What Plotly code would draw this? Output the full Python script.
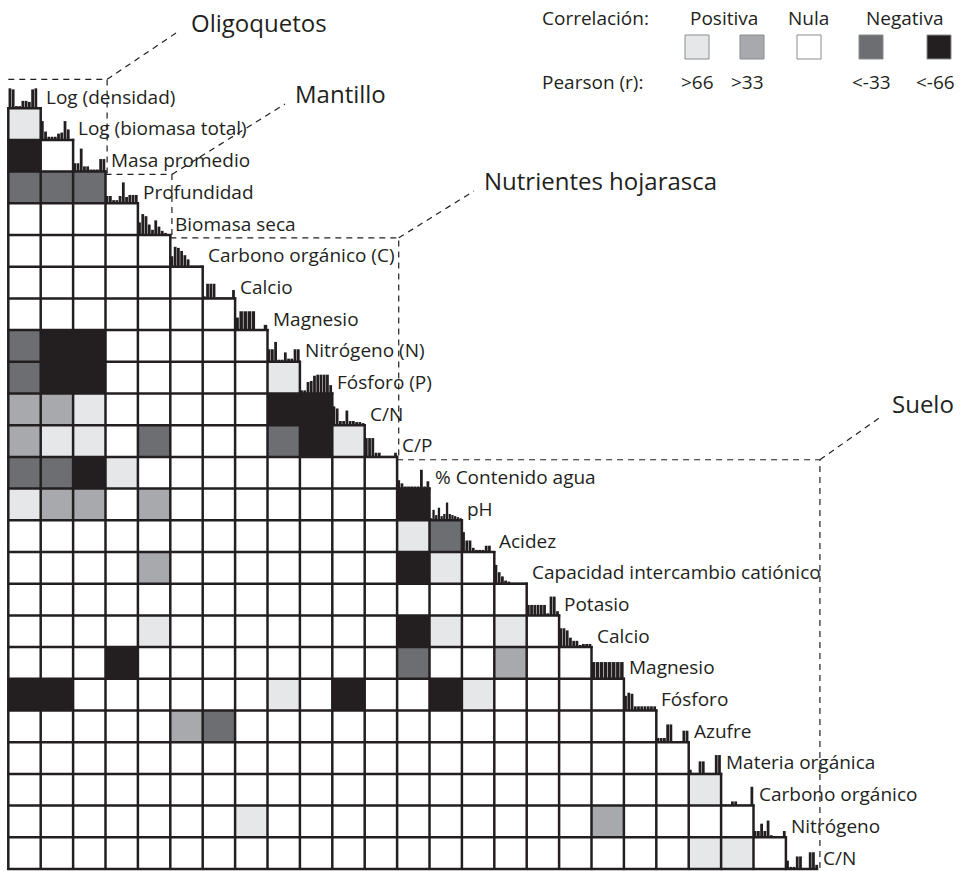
import plotly.graph_objects as go

# ---------------- data ----------------
variables = ["Log (densidad)", "Log (biomasa total)", "Masa promedio", "Profundidad", "Biomasa seca",
             "Carbono orgánico (C)", "Calcio", "Magnesio", "Nitrógeno (N)", "Fósforo (P)", "C/N", "C/P",
             "% Contenido agua", "pH", "Acidez", "Capacidad intercambio catiónico", "Potasio", "Calcio",
             "Magnesio", "Fósforo", "Azufre", "Materia orgánica", "Carbono orgánico", "Nitrógeno", "C/N"]

# correlation class per lower-triangle cell (row i, columns 0..i-1)
# 2: r>66, 1: r>33, 0: nula, -1: r<-33, -2: r<-66
corr_rows = [
    [],
    [2],
    [-2, 0],
    [-1, -1, -1],
    [0, 0, 0, 0],
    [0, 0, 0, 0, 0],
    [0, 0, 0, 0, 0, 0],
    [0, 0, 0, 0, 0, 0, 0],
    [-1, -2, -2, 0, 0, 0, 0, 0],
    [-1, -2, -2, 0, 0, 0, 0, 0, 2],
    [1, 1, 2, 0, 0, 0, 0, 0, -2, -2],
    [1, 2, 2, 0, -1, 0, 0, 0, -1, -2, 2],
    [-1, -1, -2, 2, 0, 0, 0, 0, 0, 0, 0, 0],
    [2, 1, 1, 0, 1, 0, 0, 0, 0, 0, 0, 0, -2],
    [0, 0, 0, 0, 0, 0, 0, 0, 0, 0, 0, 0, 2, -1],
    [0, 0, 0, 0, 1, 0, 0, 0, 0, 0, 0, 0, -2, 2, 0],
    [0, 0, 0, 0, 0, 0, 0, 0, 0, 0, 0, 0, 0, 0, 0, 0],
    [0, 0, 0, 0, 2, 0, 0, 0, 0, 0, 0, 0, -2, 2, 0, 2, 0],
    [0, 0, 0, -2, 0, 0, 0, 0, 0, 0, 0, 0, -1, 0, 0, 1, 0, 0],
    [-2, -2, 0, 0, 0, 0, 0, 0, 2, 0, -2, 0, 0, -2, 2, 0, 0, 0, 0],
    [0, 0, 0, 0, 0, 1, -1, 0, 0, 0, 0, 0, 0, 0, 0, 0, 0, 0, 0, 0],
    [0, 0, 0, 0, 0, 0, 0, 0, 0, 0, 0, 0, 0, 0, 0, 0, 0, 0, 0, 0, 0],
    [0, 0, 0, 0, 0, 0, 0, 0, 0, 0, 0, 0, 0, 0, 0, 0, 0, 0, 0, 0, 0, 2],
    [0, 0, 0, 0, 0, 0, 0, 2, 0, 0, 0, 0, 0, 0, 0, 0, 0, 0, 1, 0, 0, 0, 0],
    [0, 0, 0, 0, 0, 0, 0, 0, 0, 0, 0, 0, 0, 0, 0, 0, 0, 0, 0, 0, 0, 2, 2, 0],
]

# frequency histograms on the diagonal (relative counts per bin)
hist_counts = [
    [9.5, 9, 1, 1, 3.5, 3.5, 3, 9, 9.5, 0],
    [9, 4, 1.5, 1.5, 1.5, 3, 3.5, 9, 5, 0],
    [4, 4, 11, 2.5, 2.5, 1, 1, 1, 6, 6],
    [3.5, 3.5, 1.5, 1.5, 3.5, 10, 3, 4, 4, 4],
    [6, 10, 9, 5, 2.5, 7, 4, 2, 1, 0],
    [5, 9.5, 9, 7.5, 5.5, 3.5, 0.5, 0.5, 0.5, 0.5],
    [1, 7, 7, 7, 0.5, 0.5, 0.5, 0.5, 0.5, 4],
    [6, 9, 9, 9, 9, 0.5, 0.5, 2.5],
    [6, 6, 9.5, 1, 1, 4.5, 1.5, 1.5, 6, 6],
    [1.5, 1.5, 5.5, 6, 8.5, 9, 9, 9, 9, 4],
    [9, 8, 2, 2, 7, 2, 2, 1.5, 1.5, 1],
    [9, 9, 9, 2, 2, 0.5, 0.5, 0.5, 0.5, 2],
    [4, 2.5, 1, 1, 1, 1, 1, 9, 1, 3.5],
    [1, 5, 2.5, 6, 2, 3, 8.5, 3, 2.5, 2, 1.5, 1],
    [9.5, 5.5, 5.5, 2, 1, 1, 1, 3, 3, 0.5],
    [9, 5.5, 3.5, 1.5, 1, 0.5, 0.5, 0.5, 0.5, 0.5],
    [5, 5, 5, 5, 5, 5, 1, 9, 9, 2],
    [9, 9, 8, 4.5, 3, 3, 1, 1.5, 1.5, 1.5],
    [8, 8, 8, 8, 8, 8, 8, 8],
    [7, 8.5, 8, 2, 2, 2, 2, 2, 2, 2],
    [2, 2, 2, 8.5, 8.5, 0.5, 0.5, 0.5, 5.5, 5.5],
    [2, 0.5, 0.5, 6, 6, 0.5, 0.5, 0.5, 9, 9],
    [0.5, 0.5, 0.5, 2, 2, 0.5, 0.5, 0.5, 0.5, 9],
    [3, 3, 6.5, 3, 8, 1, 0.5, 0.5, 0.5, 3],
    [4, 1, 1, 6, 6, 0.5, 0.5, 8, 8, 2],
]

groups = ["Oligoquetos", "Mantillo", "Nutrientes hojarasca", "Suelo"]
group_first = [0, 3, 5, 12]
group_last = [2, 4, 11, 24]

legend_codes = [2, 1, 0, -1, -2]
legend_r = [">66", ">33", "", "<-33", "<-66"]
legend_heads = ["Positiva", "Nula", "Negativa"]

# ---------------- styling / geometry ----------------
INK = "#231f20"
palette = {2: "#e6e7e8", 1: "#a7a9ac", 0: "#ffffff", -1: "#6d6e71", -2: "#231f20"}
FONT = "Open Sans"
W, H = 962, 871
GL, GT = 8.3, 76.5     # grid left / top in px
CW, CH = 32.4, 31.7    # cell size in px
N = len(variables)
HUNIT = 0.066          # row fraction per histogram unit


def X(px):
    return -0.5 + (px - GL) / CW


def Y(py):
    return (N - 0.5) - (py - GT) / CH


def yc(i):
    return N - 1 - i


fig = go.Figure()

# correlation cells
z = []
for i in range(N):
    row = [None] * N
    for j, v in enumerate(corr_rows[i]):
        row[j] = v
    z.append(row)
codes = [-2, -1, 0, 1, 2]
cs = []
for k, c in enumerate(codes):
    cs.append([k / 5, palette[c]])
    cs.append([(k + 1) / 5, palette[c]])
fig.add_trace(go.Heatmap(z=z, x=list(range(N)), y=[yc(i) for i in range(N)],
                         zmin=-2.5, zmax=2.5, colorscale=cs, showscale=False,
                         hoverinfo="skip"))

# diagonal histograms
bx, by, bb, bw = [], [], [], []
for i, h in enumerate(hist_counts):
    n = len(h)
    for k, v in enumerate(h):
        bx.append(i - 0.5 + (k + 0.5) / n)
        by.append(v * HUNIT)
        bb.append(yc(i) - 0.5)
        bw.append(0.86 / n)
fig.add_trace(go.Bar(x=bx, y=by, base=bb, width=bw, marker=dict(color=INK, line=dict(width=0)),
                     hoverinfo="skip"))

# grid lines of the lower triangle
e = 0.035
gx, gy = [], []
for i in range(1, N):
    top = yc(i) + 0.5
    gx += [-0.5 - e, i - 0.5 + e, None]
    gy += [top, top, None]
gx += [-0.5 - e, N - 0.5, None]
gy += [-0.5, -0.5, None]
for j in range(N):
    r0 = max(j, 1)
    gx += [j - 0.5, j - 0.5, None]
    gy += [yc(r0) + 0.5 + e, -0.5 - e, None]
fig.add_trace(go.Scatter(x=gx, y=gy, mode="lines", line=dict(color=INK, width=2.5),
                         hoverinfo="skip"))

# dashed group boxes with leaders
label_px = [(189, 22), (293, 93), (482, 180), (890, 403)]
leader_px = [(179, 31), (285, 104), (474, 191), (882, 416)]
tops = [yc(s) + 0.5 - 0.09 for s in group_first]
for g, name in enumerate(groups):
    left = group_first[g] - 0.5
    right = group_last[g] + 0.5 + 0.05
    top = tops[g]
    bottom = tops[g + 1] if g + 1 < len(groups) else -0.5
    lx, ly = leader_px[g]
    fig.add_trace(go.Scatter(x=[left, right, right, None, right, X(lx)],
                             y=[top, top, bottom, None, top, Y(ly)],
                             mode="lines", line=dict(color=INK, width=1.2, dash="6px,5px"),
                             hoverinfo="skip"))
    tx, ty = label_px[g]
    fig.add_annotation(x=X(tx), y=Y(ty), text=name, showarrow=False, xanchor="left",
                       yanchor="middle", font=dict(family=FONT, size=24, color=INK))

# variable labels
for i, name in enumerate(variables):
    fig.add_annotation(x=i + 0.5, y=yc(i) - 0.14, text=name, showarrow=False,
                       xanchor="left", yanchor="middle", xshift=3,
                       font=dict(family=FONT, size=19, color=INK))

# legend
sq_px = [697, 752, 809, 871, 939]
fig.add_trace(go.Scatter(x=[X(p) for p in sq_px], y=[Y(47)] * len(sq_px), mode="markers",
                         marker=dict(symbol="square", size=24,
                                     color=[palette[c] for c in legend_codes],
                                     line=dict(color="#8a8c8e", width=1)),
                         hoverinfo="skip"))
r_px = [697, 747, 809, 871, 935]
for p, t in zip(r_px, legend_r):
    if t:
        fig.add_annotation(x=X(p), y=Y(82), text=t, showarrow=False, xanchor="center",
                           yanchor="middle", font=dict(family=FONT, size=19, color=INK))
for p, t in zip([724, 808, 904], legend_heads):
    fig.add_annotation(x=X(p), y=Y(18), text=t, showarrow=False, xanchor="center",
                       yanchor="middle", font=dict(family=FONT, size=19, color=INK))
fig.add_annotation(x=X(540), y=Y(18), text="Correlación:", showarrow=False, xanchor="left",
                   yanchor="middle", font=dict(family=FONT, size=19, color=INK))
fig.add_annotation(x=X(540), y=Y(82), text="Pearson (r):", showarrow=False, xanchor="left",
                   yanchor="middle", font=dict(family=FONT, size=19, color=INK))

fig.update_layout(width=W, height=H, margin=dict(l=0, r=0, t=0, b=0),
                  paper_bgcolor="white", plot_bgcolor="white", showlegend=False,
                  barmode="overlay")
fig.update_xaxes(range=[X(0), X(W)], visible=False, fixedrange=True)
fig.update_yaxes(range=[Y(H), Y(0)], visible=False, fixedrange=True)

fig.write_html("out.html", config={"displayModeBar": False, "staticPlot": True},
               post_script="document.body.style.margin='0px';")
